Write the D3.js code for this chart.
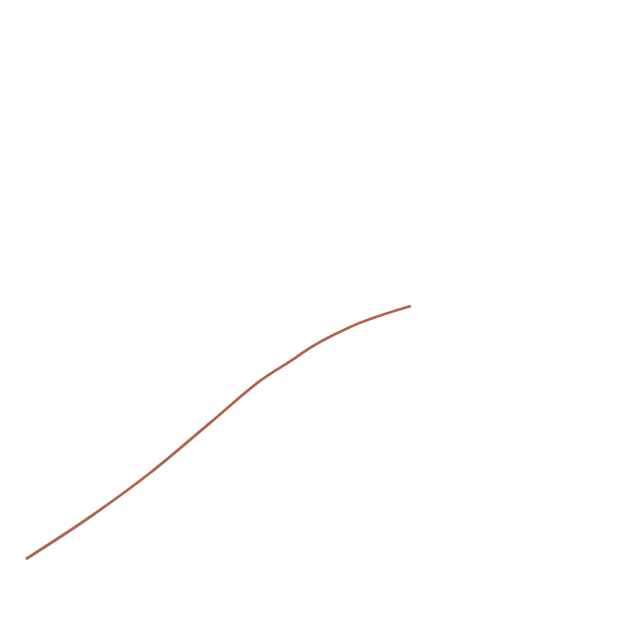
<!DOCTYPE html>
<html><head><meta charset="utf-8">
<script src="https://cdn.jsdelivr.net/npm/d3@7"></script>
<style>html,body{margin:0;padding:0;background:#fff;}</style>
</head><body>
<svg id="c" width="640" height="640"></svg>
<script>
const xValues = [0, 16.6, 32.2, 47.8, 60.8, 70.6, 71.7, 84.2, 100];
const yValues = [0, 16.6, 34.0, 53.8, 70.4, 80.2, 81.4, 91.7, 100];

const svg = d3.select("#c");
const x = d3.scaleLinear().domain([0, 100]).range([26, 411]);
const y = d3.scaleLinear().domain([0, 100]).range([559, 306]);
const data = xValues.map((v, i) => [v, yValues[i]]);
svg.append("path")
  .datum(data)
  .attr("fill", "none")
  .attr("stroke", "#b2644b")
  .attr("stroke-width", 2.8)
  .attr("stroke-linejoin", "round")
  .attr("d", d3.line().x(d => x(d[0])).y(d => y(d[1])).curve(d3.curveMonotoneX));
</script>
</body></html>
